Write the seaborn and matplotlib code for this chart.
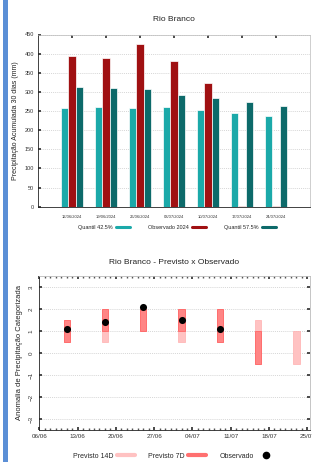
import numpy as np
import pandas as pd
import matplotlib
matplotlib.use('Agg')
import matplotlib.pyplot as plt
import matplotlib.dates as mdates
from matplotlib.lines import Line2D
from matplotlib.patches import Rectangle
import seaborn as sns

# dados - precipitacao acumulada 30 dias
semanas = ['12/06/2024', '19/06/2024', '26/06/2024', '03/07/2024', '10/07/2024', '17/07/2024', '24/07/2024']
quantil_425 = [258, 260, 257, 260, 254, 245, 238]
observado_2024 = [395, 389, 425, 382, 322, 2, 2]
quantil_575 = [313, 311, 308, 291, 285, 274, 264]
series = ['Quantil 42.5%', 'Observado 2024', 'Quantil 57.5%']
cores = ['#1ba9a9', '#a01012', '#0d6a6a']

# dados - previsto x observado
datas_14d = ['2024-06-11', '2024-06-18', '2024-06-25', '2024-07-02', '2024-07-09', '2024-07-16', '2024-07-23']
prev14_min = [0.5, 0.5, 1.0, 0.5, 0.5, -0.5, -0.5]
prev14_max = [1.5, 2.0, 2.0, 2.0, 2.0, 1.5, 1.0]
datas_7d = ['2024-06-11', '2024-06-18', '2024-06-25', '2024-07-02', '2024-07-09', '2024-07-16']
prev7_min = [0.5, 1.0, 1.0, 1.0, 0.5, -0.5]
prev7_max = [1.5, 2.0, 2.0, 2.0, 2.0, 1.0]
datas_obs = ['2024-06-11', '2024-06-18', '2024-06-25', '2024-07-02', '2024-07-09']
anomalia_obs = [1.1, 1.4, 2.1, 1.5, 1.1]
ticks_datas = ['2024-06-06', '2024-06-13', '2024-06-20', '2024-06-27', '2024-07-04', '2024-07-11', '2024-07-18', '2024-07-25']

sns.set_theme(style='white')
plt.rcParams['font.family'] = ['Liberation Sans', 'DejaVu Sans']

W, H = 312, 462
fig = plt.figure(figsize=(W / 100, H / 100), dpi=100)
fig.add_artist(Rectangle((2.5 / W, 0), 5 / W, 1, transform=fig.transFigure, color='#5b8fd6', lw=0))

# ---------------- grafico 1 ----------------
ax1 = fig.add_axes([38 / W, 1 - 206.7 / H, 272 / W, 172.2 / H])
df = pd.DataFrame({
    'semana': semanas * 3,
    'valor': quantil_425 + observado_2024 + quantil_575,
    'serie': [series[0]] * 7 + [series[1]] * 7 + [series[2]] * 7,
})
sns.barplot(data=df, x='semana', y='valor', hue='serie', palette=cores, hue_order=series,
            saturation=1, width=0.62, edgecolor='white', linewidth=0.5, legend=False, ax=ax1)
ax1.set_xlim(-1, 7)
ax1.set_ylim(0, 450)
ax1.set_yticks(range(0, 451, 50))
ax1.yaxis.grid(True, linestyle=(0, (1.5, 1.5)), color='#c8c8c8', linewidth=0.5)
ax1.set_axisbelow(True)
ax1.set_xlabel('')
ax1.set_ylabel('Precipitação Acumulada 30 dias (mm)', fontsize=5, labelpad=4, color='#222222')
ax1.set_title('Rio Branco', fontsize=6, pad=10, color='#222222')
ax1.tick_params(axis='x', labelsize=3, length=2, direction='in', top=True, bottom=False, pad=6, colors='#333333')
ax1.tick_params(axis='y', labelsize=4, length=2, direction='in', left=True, pad=3, colors='#333333')
for s in ['left', 'bottom']:
    ax1.spines[s].set_color('#222222')
    ax1.spines[s].set_linewidth(0.6)
for s in ['top', 'right']:
    ax1.spines[s].set_color('#bbbbbb')
    ax1.spines[s].set_linewidth(0.5)
h1 = [Line2D([0], [0], color=c, lw=2.2) for c in cores]
fig.legend(h1, series, loc='center', bbox_to_anchor=(177 / W, 1 - 227.7 / H), ncol=3, frameon=False,
           markerfirst=False, fontsize=4, handlelength=2.5, columnspacing=3.2, handletextpad=0.6)

# ---------------- grafico 2 ----------------
ax2 = fig.add_axes([39.3 / W, 1 - 430 / H, 270.2 / W, 154 / H])
d14 = pd.to_datetime(datas_14d)
d7 = pd.to_datetime(datas_7d)
ax2.bar(d14, np.array(prev14_max) - np.array(prev14_min), bottom=prev14_min, width=1.15,
        color='#ffc2c2', edgecolor='#ffaeae', linewidth=0.5, zorder=2)
ax2.bar(d7, np.array(prev7_max) - np.array(prev7_min), bottom=prev7_min, width=1.15,
        color='#ff8585', edgecolor='#ff5a5a', linewidth=0.5, zorder=3)
dfo = pd.DataFrame({'data': pd.to_datetime(datas_obs), 'anomalia': anomalia_obs})
sns.scatterplot(data=dfo, x='data', y='anomalia', color='black', s=26, edgecolor='black',
                linewidth=0, zorder=4, ax=ax2, legend=False)
t0 = pd.Timestamp(ticks_datas[0])
ax2.set_xlim(t0, t0 + pd.Timedelta(days=49.4))
ax2.set_ylim(-3.5, 3.5)
ax2.set_yticks(range(-3, 4))
ax2.set_xticks(pd.to_datetime(ticks_datas))
ax2.xaxis.set_major_formatter(mdates.DateFormatter('%d/%m'))
ax2.xaxis.set_minor_locator(mdates.DayLocator())
ax2.yaxis.grid(True, linestyle=(0, (1.5, 1.5)), color='#c8c8c8', linewidth=0.5)
ax2.set_axisbelow(True)
ax2.set_xlabel('')
ax2.set_ylabel('Anomalia de Precipitação Categorizada', fontsize=5.5, labelpad=4, color='#222222')
ax2.set_title('Rio Branco - Previsto x Observado', fontsize=6, pad=9, color='#222222')
ax2.tick_params(axis='x', which='major', labelsize=4.5, length=2.5, direction='in', top=True, bottom=True,
                pad=3, colors='#333333')
ax2.tick_params(axis='x', which='minor', length=1.2, direction='in', top=True, bottom=True, colors='#555555')
ax2.tick_params(axis='y', labelsize=4.5, length=2, direction='in', left=True, right=True, pad=4,
                colors='#333333')
for lab in ax2.get_yticklabels():
    lab.set_rotation(90)
    lab.set_va('center')
for s in ['left', 'bottom']:
    ax2.spines[s].set_color('#222222')
    ax2.spines[s].set_linewidth(0.6)
for s in ['top', 'right']:
    ax2.spines[s].set_color('#bbbbbb')
    ax2.spines[s].set_linewidth(0.6)
h2 = [Line2D([0], [0], color='#ffc2c2', lw=3),
      Line2D([0], [0], color='#ff7070', lw=3),
      Line2D([0], [0], marker='o', color='black', lw=0, markersize=4.5)]
fig.legend(h2, ['Previsto 14D', 'Previsto 7D', 'Observado'], loc='center',
           bbox_to_anchor=(174 / W, 1 - 456 / H), ncol=3, frameon=False, markerfirst=False,
           fontsize=5, handlelength=2.6, columnspacing=1.9, handletextpad=0.5)

fig.savefig('out.png', dpi=100)
